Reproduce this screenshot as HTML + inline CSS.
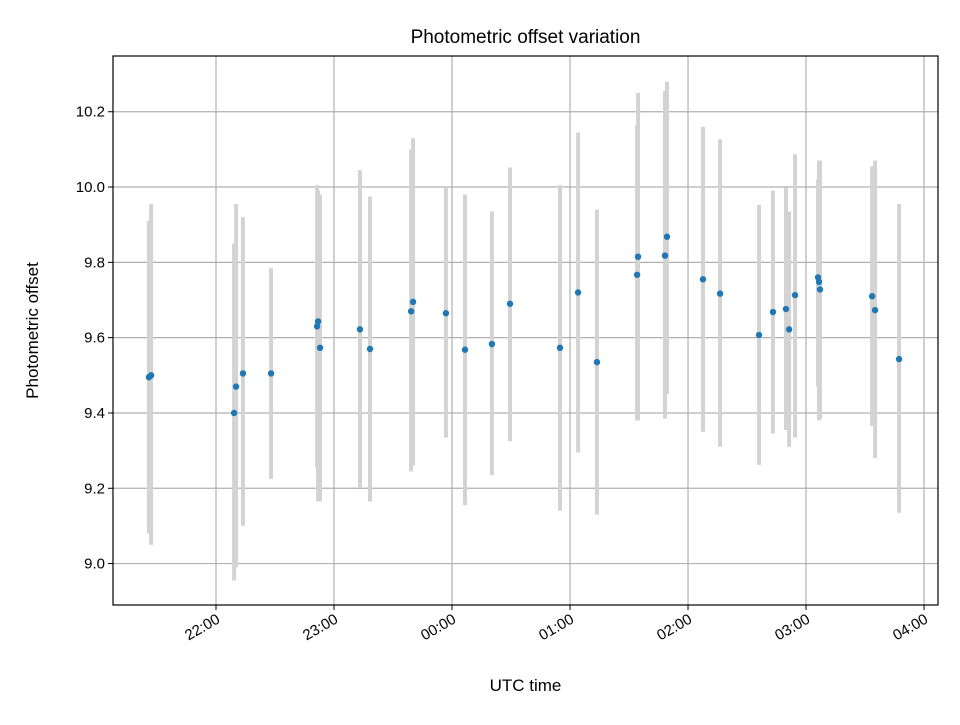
<!DOCTYPE html>
<html><head><meta charset="utf-8"><style>
body{margin:0;background:#fff;font-family:"Liberation Sans","DejaVu Sans",sans-serif}
</style></head><body>
<svg id="chart" width="960" height="720" xmlns="http://www.w3.org/2000/svg"></svg>
<script>
const minutes=[25.9,27.0,69.2,70.2,73.7,88.0,111.4,111.9,112.9,133.2,138.3,159.2,160.2,176.9,186.6,200.3,209.5,234.9,244.1,253.7,274.1,274.6,288.3,289.3,307.6,316.3,336.1,343.2,349.8,351.4,354.4,366.1,366.6,367.1,393.6,395.1,407.3];
const offsets=[9.495,9.50,9.40,9.47,9.505,9.505,9.63,9.643,9.573,9.622,9.57,9.67,9.695,9.665,9.568,9.583,9.69,9.573,9.72,9.535,9.767,9.815,9.818,9.868,9.755,9.717,9.607,9.668,9.676,9.622,9.713,9.76,9.748,9.728,9.71,9.673,9.543];
const lows=[9.08,9.05,8.955,8.99,9.10,9.225,9.255,9.165,9.165,9.20,9.165,9.245,9.26,9.335,9.155,9.235,9.325,9.14,9.295,9.13,9.38,9.38,9.385,9.45,9.35,9.31,9.262,9.345,9.355,9.31,9.335,9.47,9.38,9.385,9.365,9.28,9.135];
const highs=[9.91,9.955,9.85,9.955,9.92,9.785,10.005,9.99,9.98,10.045,9.975,10.10,10.13,9.997,9.98,9.935,10.052,10.005,10.145,9.94,10.165,10.25,10.255,10.28,10.16,10.127,9.953,9.99,9.998,9.935,10.087,10.02,10.07,10.07,10.055,10.07,9.955];
const yTicks=[9.0,9.2,9.4,9.6,9.8,10.0,10.2];
const xTickMinutes=[60,120,180,240,300,360,420];
const xTickLabels=["22:00","23:00","00:00","01:00","02:00","03:00","04:00"];
const L=113,R=938,T=56,B=605,xMin=7.63,xMax=427.1,yMin=8.890,yMax=10.348;
const X=m=>L+(m-xMin)/(xMax-xMin)*(R-L);
const Y=v=>B-(v-yMin)/(yMax-yMin)*(B-T);
const svg=document.getElementById('chart');
const NS='http://www.w3.org/2000/svg';
function mk(tag,attrs,parent){const e=document.createElementNS(NS,tag);for(const k in attrs)e.setAttribute(k,attrs[k]);(parent||svg).appendChild(e);return e;}
yTicks.forEach((v,i)=>{
 const g=mk('line',{x1:L,x2:R,y1:Y(v),y2:Y(v),stroke:'#b0b0b0','stroke-width':1.2});
 
 
 mk('line',{x1:L-5,x2:L,y1:Y(v),y2:Y(v),stroke:'#000'});
 const t=mk('text',{x:L-8,y:Y(v)+5,'text-anchor':'end','font-size':15});
 t.textContent=v.toFixed(1);
 
 
});
xTickMinutes.forEach((m,i)=>{
 const x=X(m);
 const g=mk('line',{x1:x,x2:x,y1:T,y2:B,stroke:'#b0b0b0','stroke-width':1.2});
 
 
 mk('line',{x1:x,x2:x,y1:B,y2:B+5,stroke:'#000'});
 const t=mk('text',{x:x+5,y:B+17,'text-anchor':'end','font-size':15,transform:`rotate(-30 ${x+5} ${B+17})`});
 t.textContent=xTickLabels[i];
 
 
});
minutes.forEach((m,i)=>{
 const e=mk('line',{x1:X(m),x2:X(m),y1:Y(highs[i]),y2:Y(lows[i]),stroke:'#d3d3d3','stroke-width':4});
 
 
});
minutes.forEach((m,i)=>{
 const c=mk('circle',{cx:X(m),cy:Y(offsets[i]),r:3.2,fill:'#1f77b4'});
 
 
});
const f=mk('rect',{x:L,y:T,width:R-L,height:B-T,fill:'none',stroke:'#000','stroke-width':1.2});


const tt=mk('text',{x:(L+R)/2,y:43,'text-anchor':'middle','font-size':19});
tt.textContent='Photometric offset variation';


const xl=mk('text',{x:(L+R)/2,y:691,'text-anchor':'middle','font-size':17});
xl.textContent='UTC time';


const yl=mk('text',{x:38,y:(T+B)/2,'text-anchor':'middle','font-size':17,transform:`rotate(-90 38 ${(T+B)/2})`});
yl.textContent='Photometric offset';


</script>
</body></html>
